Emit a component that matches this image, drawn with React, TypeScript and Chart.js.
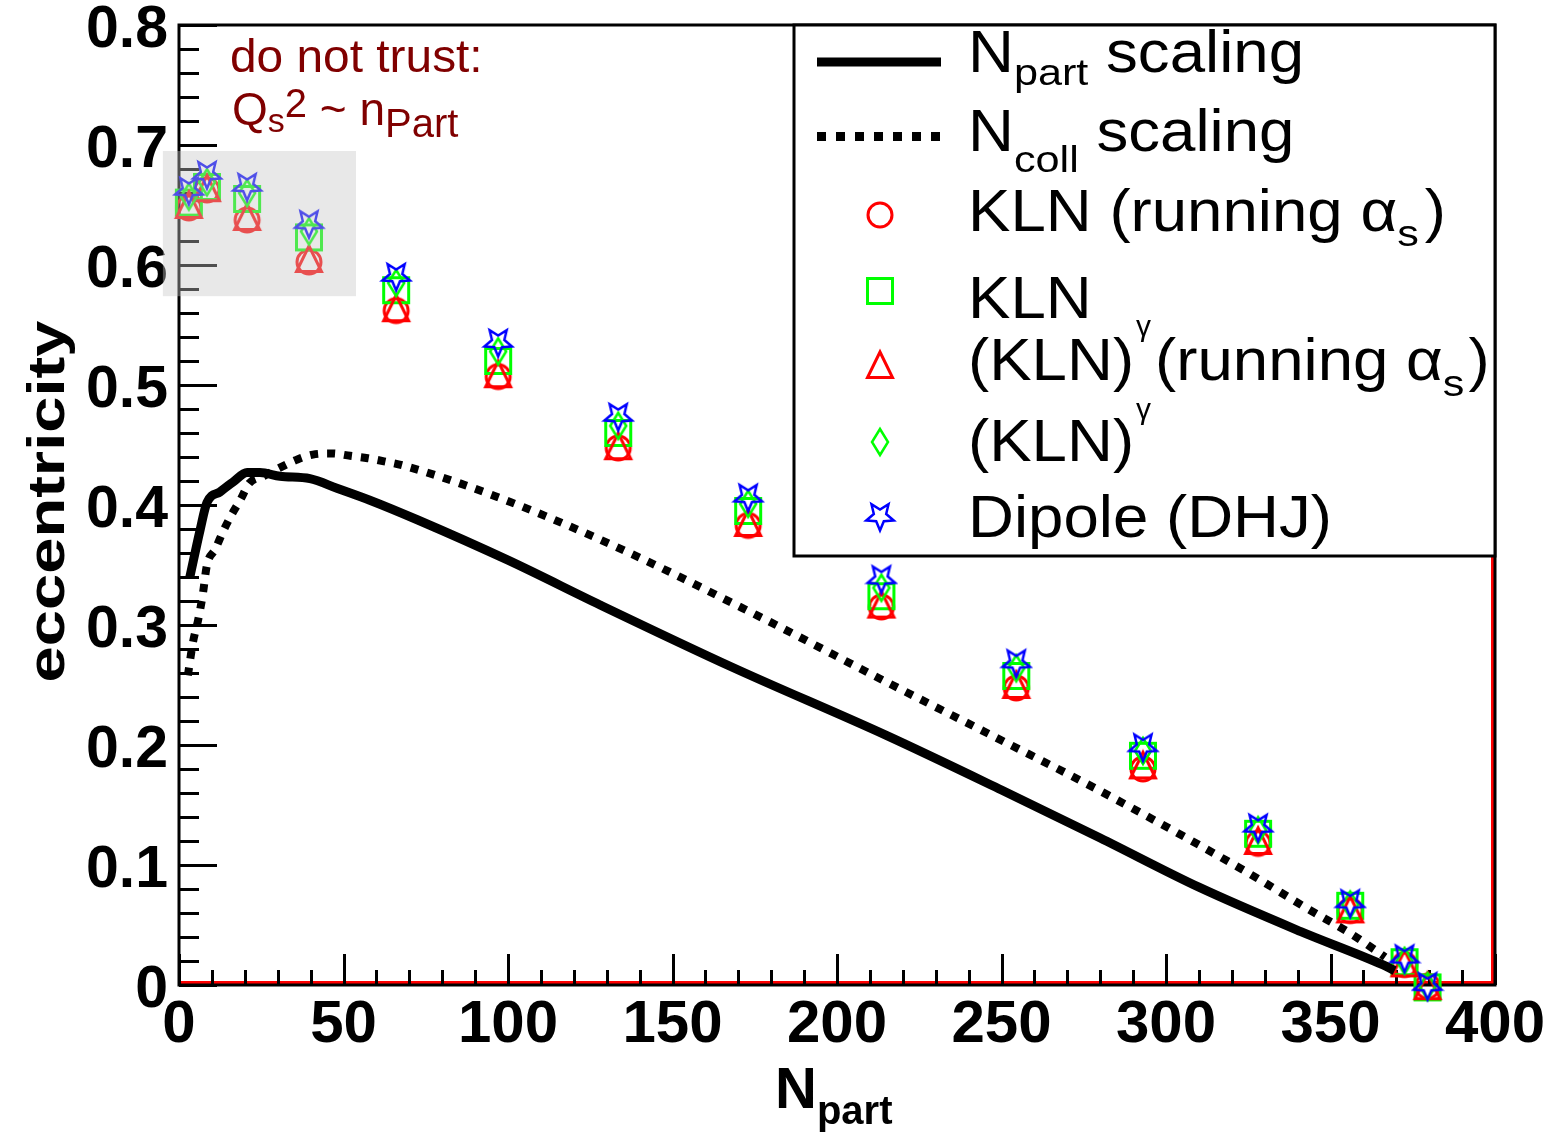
import React, { useEffect, useRef } from 'react';
import { Chart, registerables } from 'chart.js';

Chart.register(...registerables);

const FONT = '"Liberation Sans", Arial, Helvetica, sans-serif';

// ---------- data ----------
const nPart = [3.0, 8.5, 20.7, 39.5, 66, 97, 133.5, 173, 213.5, 254.5, 293, 328, 356, 372.5, 379.5];
const klnRunning = [0.6475, 0.6625, 0.6375, 0.6025, 0.562, 0.507, 0.4475, 0.383, 0.315, 0.2475, 0.18, 0.118, 0.062, 0.017, -0.001];
const kln = [0.652, 0.665, 0.655, 0.623, 0.579, 0.52, 0.46, 0.395, 0.324, 0.2575, 0.191, 0.126, 0.066, 0.019, -0.002];
const klnGammaRunning = [0.65, 0.664, 0.64, 0.605, 0.564, 0.509, 0.449, 0.385, 0.317, 0.25, 0.183, 0.12, 0.063, 0.018, -0.001];
const klnGamma = [0.657, 0.669, 0.66, 0.628, 0.585, 0.528, 0.466, 0.401, 0.331, 0.264, 0.195, 0.129, 0.067, 0.02, -0.001];
const dipole = [0.6617, 0.675, 0.665, 0.634, 0.59, 0.535, 0.4733, 0.406, 0.338, 0.268, 0.198, 0.131, 0.068, 0.022, -0.001];

const npartScalingX = [3.3, 6.4, 8.5, 12.5, 16.4, 20.7, 24.6, 30.7, 39.8, 48, 58, 72.6, 100, 128, 168, 215, 250, 280, 310, 341, 366, 369.5];
const npartScalingY = [0.34, 0.379, 0.402, 0.411, 0.419, 0.427, 0.427, 0.424, 0.422, 0.414, 0.404, 0.3875, 0.354, 0.3167, 0.265, 0.208, 0.1625, 0.1225, 0.0815, 0.0445, 0.0167, 0.012];

const ncollScalingX = [2.7, 4.2, 5.8, 7.2, 8.5, 11, 13.4, 16, 18.8, 21.3, 26, 31.3, 36, 40.7, 46.5, 52, 57.4, 63, 68, 94.5, 131, 175.7, 215, 245.6, 280, 324.6, 342.8, 356.8, 366.6];
const ncollScalingY = [0.258, 0.285, 0.304, 0.325, 0.35, 0.363, 0.378, 0.392, 0.405, 0.418, 0.4245, 0.432, 0.438, 0.442, 0.443, 0.441, 0.439, 0.436, 0.433, 0.409, 0.3675, 0.308, 0.2525, 0.21, 0.1617, 0.094, 0.064, 0.0417, 0.0233];

const xTickLabels = ['0', '50', '100', '150', '200', '250', '300', '350', '400'];
const yTickLabels = ['0', '0.1', '0.2', '0.3', '0.4', '0.5', '0.6', '0.7', '0.8'];

// shaded "do not trust" region (data coords)
const shadeX = [-4.9, 53.8];
const shadeY = [0.574, 0.695];

const RED = '#ff0000';
const GREEN = '#00ff00';
const BLUE = '#0000ff';
const DARKRED = '#800000';

function makeMarker(kind: string): HTMLCanvasElement {
  const s = 34;
  const c = document.createElement('canvas');
  c.width = s;
  c.height = s;
  const g = c.getContext('2d')!;
  const cx = s / 2;
  const cy = s / 2;
  g.lineWidth = 3;
  g.lineJoin = 'miter';
  if (kind === 'circle') {
    g.strokeStyle = RED;
    g.beginPath();
    g.arc(cx, cy, 12, 0, Math.PI * 2);
    g.stroke();
  } else if (kind === 'square') {
    g.strokeStyle = GREEN;
    g.strokeRect(cx - 12.5, cy - 12.5, 25, 25);
  } else if (kind === 'triangle') {
    g.strokeStyle = RED;
    g.beginPath();
    g.moveTo(cx, cy - 13);
    g.lineTo(cx + 12.5, cy + 12.5);
    g.lineTo(cx - 12.5, cy + 12.5);
    g.closePath();
    g.stroke();
  } else if (kind === 'diamond') {
    g.strokeStyle = GREEN;
    g.lineWidth = 2.5;
    g.beginPath();
    g.moveTo(cx, cy - 13);
    g.lineTo(cx + 8, cy);
    g.lineTo(cx, cy + 13);
    g.lineTo(cx - 8, cy);
    g.closePath();
    g.stroke();
  } else if (kind === 'star') {
    g.strokeStyle = BLUE;
    g.lineWidth = 2.5;
    const R = 14.5;
    const r = 6.5;
    g.beginPath();
    for (let k = 0; k < 10; k++) {
      const ang = Math.PI / 2 + (k * Math.PI) / 5;
      const rad = k % 2 === 0 ? R : r;
      const px = cx + rad * Math.cos(ang);
      const py = cy - 1 + rad * Math.sin(ang);
      if (k === 0) g.moveTo(px, py);
      else g.lineTo(px, py);
    }
    g.closePath();
    g.stroke();
  }
  return c;
}

type Run = { t: string; size: number; dy?: number; sx?: number; bold?: boolean; gap?: number };

function drawRuns(ctx: CanvasRenderingContext2D, x: number, y: number, runs: Run[], color: string) {
  let cx = x;
  ctx.fillStyle = color;
  ctx.textAlign = 'left';
  ctx.textBaseline = 'alphabetic';
  for (const r of runs) {
    cx += r.gap || 0;
    const sx = r.sx ?? 1;
    ctx.font = `${r.bold ? 'bold ' : ''}${r.size}px ${FONT}`;
    const w = ctx.measureText(r.t).width * sx;
    ctx.save();
    ctx.translate(cx, y + (r.dy || 0));
    ctx.scale(sx, 1);
    ctx.fillText(r.t, 0, 0);
    ctx.restore();
    cx += w;
  }
}

const decorPlugin = {
  id: 'decor',
  beforeDatasetsDraw(chart: any) {
    const { ctx, chartArea: a, scales } = chart;
    const x = scales.x;
    const y = scales.y;
    ctx.save();
    // red histogram frame
    ctx.strokeStyle = RED;
    ctx.lineWidth = 3;
    ctx.beginPath();
    ctx.moveTo(a.left, a.bottom - 2.5);
    ctx.lineTo(a.right - 2.5, a.bottom - 2.5);
    ctx.lineTo(a.right - 2.5, a.top);
    ctx.stroke();
    // black frame
    ctx.strokeStyle = '#000';
    ctx.lineWidth = 3;
    ctx.strokeRect(a.left, a.top, a.right - a.left, a.bottom - a.top);
    // ticks
    ctx.lineWidth = 3;
    ctx.beginPath();
    for (let v = 0; v <= 400; v += 10) {
      const px = Math.round(x.getPixelForValue(v)) + 0.5;
      const len = v % 50 === 0 ? 31 : 15;
      ctx.moveTo(px, a.bottom);
      ctx.lineTo(px, a.bottom - len);
    }
    for (let i = 0; i <= 40; i++) {
      const py = Math.round(y.getPixelForValue(i * 0.02)) + 0.5;
      const len = i % 5 === 0 ? 38 : 20;
      ctx.moveTo(a.left, py);
      ctx.lineTo(a.left + len, py);
    }
    ctx.stroke();
    ctx.restore();
  },
  afterDatasetsDraw(chart: any) {
    const { ctx, scales } = chart;
    const x = scales.x;
    const y = scales.y;
    ctx.save();
    // translucent grey box
    const x0 = x.getPixelForValue(shadeX[0]);
    const x1 = x.getPixelForValue(shadeX[1]);
    const y0 = y.getPixelForValue(shadeY[1]);
    const y1 = y.getPixelForValue(shadeY[0]);
    ctx.fillStyle = 'rgba(198,198,198,0.4)';
    ctx.fillRect(x0, y0, x1 - x0, y1 - y0);

    // annotation
    drawRuns(ctx, 230, 72, [{ t: 'do not trust:', size: 46, sx: 1.04 }], DARKRED);
    drawRuns(
      ctx,
      232,
      125,
      [
        { t: 'Q', size: 46 },
        { t: 's', size: 34, dy: 7 },
        { t: '2', size: 40, dy: -8 },
        { t: ' ~ ', size: 46 },
        { t: 'n', size: 46 },
        { t: 'Part', size: 40, dy: 12 },
      ],
      DARKRED
    );

    // legend box
    ctx.fillStyle = '#fff';
    ctx.fillRect(794, 25, 1495 - 794, 556 - 25);
    ctx.strokeStyle = '#000';
    ctx.lineWidth = 3;
    ctx.strokeRect(794, 25, 1495 - 794, 556 - 25);

    // legend line samples
    ctx.beginPath();
    ctx.lineWidth = 9;
    ctx.strokeStyle = '#000';
    ctx.moveTo(817, 62);
    ctx.lineTo(941, 62);
    ctx.stroke();
    ctx.beginPath();
    ctx.setLineDash([9, 10]);
    ctx.moveTo(817, 136.5);
    ctx.lineTo(941, 136.5);
    ctx.stroke();
    ctx.setLineDash([]);

    // legend markers
    const mk = chart.$markers;
    const drawM = (c: HTMLCanvasElement, cy: number) => ctx.drawImage(c, 880 - c.width / 2, cy - c.height / 2);
    drawM(mk.circle, 215);
    drawM(mk.square, 291);
    drawM(mk.triangle, 365);
    drawM(mk.diamond, 442);
    drawM(mk.star, 517);

    const M = 60;
    const SX = 1.06;
    const S = 36;
    const SSX = 1.2;
    const TX = 968;
    drawRuns(ctx, TX, 72, [
      { t: 'N', size: M, sx: SX },
      { t: 'part', size: S, sx: SSX, dy: 12.5 },
      { t: ' scaling', size: M, sx: SX },
    ], '#000');
    drawRuns(ctx, TX, 151, [
      { t: 'N', size: M, sx: SX },
      { t: 'coll', size: S, sx: SSX, dy: 21 },
      { t: ' scaling', size: M, sx: SX },
    ], '#000');
    drawRuns(ctx, TX, 231, [
      { t: 'KLN (running ', size: M, sx: SX },
      { t: 'α', size: M, sx: SX },
      { t: 's', size: S, sx: SSX, dy: 15 },
      { t: ')', size: M, sx: SX, gap: 6 },
    ], '#000');
    drawRuns(ctx, TX, 318, [{ t: 'KLN', size: M, sx: SX }], '#000');
    drawRuns(ctx, TX, 380, [
      { t: '(KLN)', size: M, sx: SX },
      { t: 'γ', size: 30, dy: -44, gap: 2 },
      { t: '(running ', size: M, sx: SX, gap: 4 },
      { t: 'α', size: M, sx: SX },
      { t: 's', size: S, sx: SSX, dy: 16 },
      { t: ')', size: M, sx: SX, gap: 4 },
    ], '#000');
    drawRuns(ctx, TX, 461, [
      { t: '(KLN)', size: M, sx: SX },
      { t: 'γ', size: 30, dy: -42, gap: 2 },
    ], '#000');
    drawRuns(ctx, TX, 537, [{ t: 'Dipole (DHJ)', size: M, sx: SX }], '#000');

    // x-axis title
    drawRuns(ctx, 775, 1108, [
      { t: 'N', size: 58, bold: true },
      { t: 'part', size: 40, bold: true, dy: 16 },
    ], '#000');

    // y-axis title
    ctx.save();
    ctx.translate(64, 501.5);
    ctx.rotate(-Math.PI / 2);
    ctx.font = `bold 52px ${FONT}`;
    const w = ctx.measureText('eccentricity').width;
    ctx.scale(362 / w, 1);
    ctx.textAlign = 'center';
    ctx.textBaseline = 'alphabetic';
    ctx.fillStyle = '#000';
    ctx.fillText('eccentricity', 0, 0);
    ctx.restore();

    ctx.restore();
  },
};

export default function App() {
  const ref = useRef<HTMLCanvasElement>(null);
  useEffect(() => {
    const canvas = ref.current!;
    const markers = {
      circle: makeMarker('circle'),
      square: makeMarker('square'),
      triangle: makeMarker('triangle'),
      diamond: makeMarker('diamond'),
      star: makeMarker('star'),
    };
    const pts = (xs: number[], ys: number[]) => xs.map((v, i) => ({ x: v, y: ys[i] }));
    const markerDs = (label: string, ys: number[], style: HTMLCanvasElement, order: number) => ({
      label,
      data: pts(nPart, ys),
      showLine: false,
      pointStyle: style,
      pointRadius: 14,
      pointHoverRadius: 14,
      clip: false,
      order,
    });
    const chart = new Chart(canvas, {
      type: 'scatter',
      data: {
        datasets: [
          {
            label: 'Npart scaling',
            data: pts(npartScalingX, npartScalingY),
            showLine: true,
            borderColor: '#000',
            borderWidth: 9,
            pointRadius: 0,
            cubicInterpolationMode: 'monotone',
            order: 0,
          } as any,
          {
            label: 'Ncoll scaling',
            data: pts(ncollScalingX, ncollScalingY),
            showLine: true,
            borderColor: '#000',
            borderWidth: 8,
            borderDash: [8, 9],
            borderCapStyle: 'butt',
            pointRadius: 0,
            cubicInterpolationMode: 'monotone',
            order: 0,
          } as any,
          markerDs('KLN (running alpha_s)', klnRunning, markers.circle, 5),
          markerDs('KLN', kln, markers.square, 4),
          markerDs('(KLN)^gamma (running alpha_s)', klnGammaRunning, markers.triangle, 3),
          markerDs('(KLN)^gamma', klnGamma, markers.diamond, 2),
          markerDs('Dipole (DHJ)', dipole, markers.star, 1),
        ],
      },
      options: {
        responsive: false,
        devicePixelRatio: 1,
        animation: false,
        layout: { padding: { top: 25, right: 59, left: 0, bottom: 0 } },
        plugins: { legend: { display: false }, tooltip: { enabled: false } },
        scales: {
          x: {
            type: 'linear',
            min: 0,
            max: 400,
            grid: { display: false, drawTicks: false },
            border: { display: false },
            ticks: {
              stepSize: 50,
              autoSkip: false,
              maxRotation: 0,
              padding: 4,
              color: '#000',
              font: { family: FONT, size: 60, weight: 'bold', lineHeight: 1.2 },
              callback: (_v: any, i: number) => xTickLabels[i],
            },
            afterFit: (s: any) => {
              s.height = 151;
              s.paddingLeft = 0;
              s.paddingRight = 0;
            },
          },
          y: {
            type: 'linear',
            min: 0,
            max: 0.8,
            grid: { display: false, drawTicks: false },
            border: { display: false },
            ticks: {
              stepSize: 0.1,
              autoSkip: false,
              padding: 11,
              labelOffset: 6,
              color: '#000',
              font: { family: FONT, size: 59, weight: 'bold', lineHeight: 0.8 },
              callback: (_v: any, i: number) => yTickLabels[i],
            },
            afterFit: (s: any) => {
              s.width = 179;
              s.paddingTop = 0;
              s.paddingBottom = 0;
            },
          },
        },
      } as any,
      plugins: [
        {
          id: 'markerStore',
          beforeInit(c: any) {
            c.$markers = markers;
          },
        },
        decorPlugin,
      ],
    });
    return () => chart.destroy();
  }, []);
  return (
    <div style={{ position: 'fixed', left: 0, top: 0, width: 1554, height: 1136, background: '#fff' }}>
      <canvas ref={ref} width={1554} height={1136} style={{ display: 'block', width: 1554, height: 1136 }} />
    </div>
  );
}
